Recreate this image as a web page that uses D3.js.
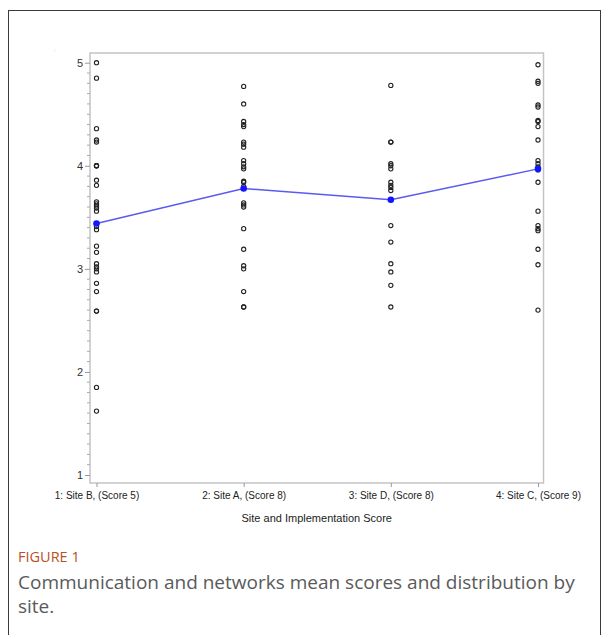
<!DOCTYPE html>
<html>
<head>
<meta charset="utf-8">
<script src="https://cdn.jsdelivr.net/npm/d3@7"></script>
<style>
  html, body { margin: 0; padding: 0; background: #fff; }
  svg { display: block; }
</style>
</head>
<body>
<svg id="chart" width="609" height="635"></svg>
<script>
// ---- data ----
const categories = ["1: Site B, (Score 5)", "2: Site A, (Score 8)", "3: Site D, (Score 8)", "4: Site C, (Score 9)"];
const siteB = [5.0, 4.85, 4.36, 4.25, 4.23, 4.0, 4.0, 4.0, 3.86, 3.81, 3.65, 3.63, 3.61, 3.59, 3.56, 3.41, 3.38, 3.22, 3.16, 3.05, 3.02, 3.0, 2.97, 2.86, 2.78, 2.59, 2.59, 1.85, 1.62];
const siteA = [4.77, 4.60, 4.43, 4.40, 4.38, 4.23, 4.21, 4.18, 4.05, 4.02, 3.99, 3.97, 3.85, 3.84, 3.80, 3.64, 3.62, 3.60, 3.39, 3.19, 3.03, 3.0, 2.78, 2.63, 2.63];
const siteD = [4.78, 4.23, 4.23, 4.02, 4.0, 3.97, 3.84, 3.81, 3.79, 3.76, 3.42, 3.26, 3.05, 2.97, 2.84, 2.63];
const siteC = [4.98, 4.82, 4.80, 4.59, 4.57, 4.44, 4.43, 4.38, 4.25, 4.05, 4.02, 3.99, 3.96, 3.84, 3.56, 3.42, 3.39, 3.37, 3.19, 3.04, 2.60];
const seriesValues = [siteB, siteA, siteD, siteC];
const means = [3.44, 3.78, 3.67, 3.97];
const yTicks = [1, 2, 3, 4, 5];
const xTitle = "Site and Implementation Score";
const figLabel = "FIGURE 1";
const captionLines = ["Communication and networks mean scores and distribution by", "site."];

// ---- layout ----
const svg = d3.select("#chart");
const frame = { left: 90, right: 543.5, top: 53, bottom: 483 };

const x = d3.scalePoint().domain(categories).range([96.5, 538]);
const y = d3.scaleLinear().domain([1, 5]).range([475, 62.7]);

// outer border
svg.append("rect")
  .attr("x", 8.5).attr("y", 10.5).attr("width", 592).attr("height", 640)
  .attr("fill", "none").attr("stroke", "#3a3a3a").attr("stroke-width", 1);

// small artifact mark
svg.append("text").attr("x", 54).attr("y", 52).attr("font-size", 6)
  .attr("fill", "#b0b0b0").attr("font-family", "Liberation Sans, Arial, sans-serif").text(":");

// plot frame
svg.append("rect")
  .attr("x", frame.left).attr("y", frame.top)
  .attr("width", frame.right - frame.left).attr("height", frame.bottom - frame.top)
  .attr("fill", "none").attr("stroke", "#c4c4c4").attr("stroke-width", 1.5);

// y axis
const yAxis = d3.axisLeft(y).tickValues(yTicks).tickFormat(d3.format("d")).tickSize(5).tickPadding(2);
const gy = svg.append("g").attr("transform", `translate(${frame.left},0)`).call(yAxis);
gy.select(".domain").remove();
gy.selectAll(".tick line").attr("stroke", "#999");
gy.selectAll(".tick text").attr("font-family", "Liberation Sans, Arial, sans-serif")
  .attr("font-size", 11).attr("fill", "#333");
// minor ticks
const minor = d3.range(10, 51).map(v => v / 10).filter(v => Math.abs(v - Math.round(v)) > 1e-6);
svg.append("g").selectAll("line").data(minor).join("line")
  .attr("x1", frame.left - 3).attr("x2", frame.left)
  .attr("y1", d => y(d)).attr("y2", d => y(d))
  .attr("stroke", "#aaa").attr("stroke-width", 1);

// x axis
const xAxis = d3.axisBottom(x).tickSize(4).tickPadding(5);
const gx = svg.append("g").attr("transform", `translate(0,${frame.bottom})`).call(xAxis);
gx.select(".domain").remove();
gx.selectAll(".tick line").attr("stroke", "#999");
gx.selectAll(".tick text").attr("font-family", "Liberation Sans, Arial, sans-serif")
  .attr("font-size", 10).attr("fill", "#222");

svg.append("text").attr("x", (frame.left + frame.right) / 2).attr("y", 522)
  .attr("text-anchor", "middle").attr("font-family", "Liberation Sans, Arial, sans-serif")
  .attr("font-size", 11).attr("fill", "#222").text(xTitle);

// scatter points
const pts = [];
seriesValues.forEach((vals, i) => vals.forEach(v => pts.push({ c: categories[i], v })));
svg.append("g").selectAll("circle").data(pts).join("circle")
  .attr("cx", d => x(d.c)).attr("cy", d => y(d.v)).attr("r", 2.1)
  .attr("fill", "none").attr("stroke", "#222").attr("stroke-width", 1.1);

// mean line
const meanData = categories.map((c, i) => ({ c, v: means[i] }));
svg.append("path").datum(meanData)
  .attr("d", d3.line().x(d => x(d.c)).y(d => y(d.v)))
  .attr("fill", "none").attr("stroke", "#5a5af0").attr("stroke-width", 1.5);
svg.append("g").selectAll("circle").data(meanData).join("circle")
  .attr("cx", d => x(d.c)).attr("cy", d => y(d.v)).attr("r", 3.3)
  .attr("fill", "#1414ff");

// caption
svg.append("text").attr("x", 18).attr("y", 562)
  .attr("font-family", "Open Sans, Noto Sans, sans-serif").attr("font-size", 14.5)
  .attr("fill", "#b8501f").text(figLabel);
svg.append("g").selectAll("text").data(captionLines).join("text")
  .attr("x", 18).attr("y", (d, i) => 589 + i * 24)
  .attr("font-family", "Open Sans, Noto Sans, sans-serif").attr("font-size", 19)
  .attr("fill", "#5a5a5a").text(d => d);
</script>
</body>
</html>
